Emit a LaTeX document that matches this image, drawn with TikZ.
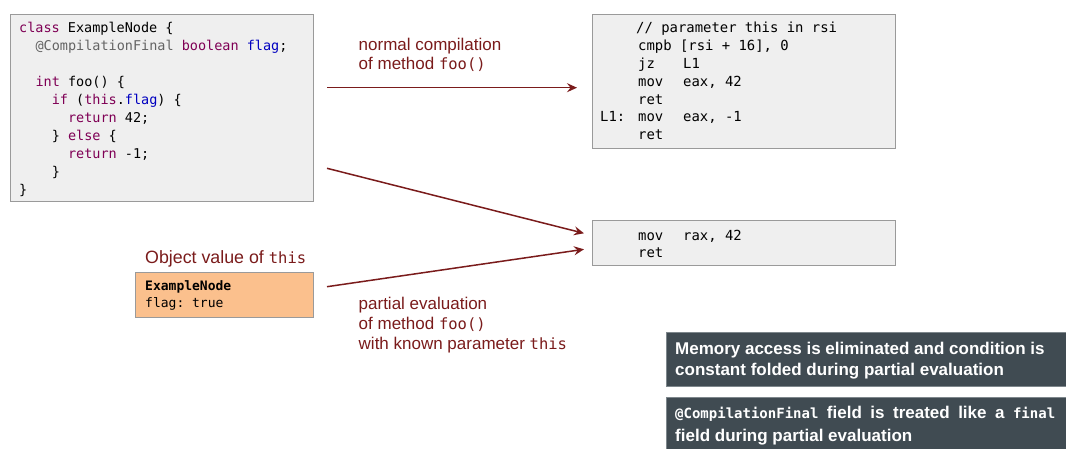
\documentclass[tikz,border=0pt]{standalone}
\usepackage{fontspec}
\setmainfont{Liberation Sans}
\setmonofont{DejaVu Sans Mono}
\usetikzlibrary{arrows.meta}
\definecolor{ckwc}{HTML}{7F0055}
\definecolor{cflc}{HTML}{0000C0}
\definecolor{canc}{HTML}{646464}
\definecolor{arr}{HTML}{7A1B1B}
\definecolor{boxfill}{HTML}{EFEFEF}
\definecolor{boxline}{HTML}{9A9A9A}
\definecolor{orangefill}{HTML}{FBC08D}
\definecolor{darkbox}{HTML}{404B52}
\definecolor{darkline}{HTML}{7E878C}
\newcommand\ckw[1]{\textcolor{ckwc}{#1}}
\newcommand\cfl[1]{\textcolor{cflc}{#1}}
\newcommand\can[1]{\textcolor{canc}{#1}}
\newcommand\lmono[1]{{\fontsize{15.5}{18}\ttfamily #1}}
\newcommand\nmono[1]{{\fontsize{14}{16}\ttfamily\bfseries #1}}
\newcommand\ind[1]{\hspace*{#1}}
\tikzset{
  graybox/.style={draw=boxline, fill=boxfill, line width=1pt, inner sep=0pt, anchor=north west},
  orangebox/.style={draw=boxline, fill=orangefill, line width=1pt, inner sep=0pt, anchor=north west},
  notebox/.style={fill=darkbox, draw=darkline, line width=0.8pt, inner sep=0pt, anchor=north west},
  codeline/.style={anchor=base west, inner sep=0pt, font=\fontsize{13.5}{16}\ttfamily},
  asmline/.style={anchor=base west, inner sep=0pt, font=\fontsize{13.9}{16}\ttfamily},
  objline/.style={anchor=base west, inner sep=0pt, font=\fontsize{13}{16}\ttfamily},
  lbl/.style={anchor=base west, inner sep=0pt, text=arr, font=\fontsize{17}{20}\selectfont},
  noteline/.style={anchor=base west, inner sep=0pt, text=white, font=\fontsize{17}{20}\selectfont\bfseries},
  flow/.style={draw=arr, line width=1.5pt, -{Stealth[length=10pt,width=9pt,inset=3.5pt]}}
}
\begin{document}
\begin{tikzpicture}[x=1pt,y=-1pt]
\useasboundingbox (0,0) rectangle (1066,449);
% boxes
\node[graybox, minimum width=303pt, minimum height=187.5pt] (code) at (10,14) {};
\node[graybox, minimum width=303pt, minimum height=134pt] (asmA) at (592,14) {};
\node[graybox, minimum width=303pt, minimum height=45pt] (asmB) at (592,220) {};
\node[orangebox, minimum width=177.7pt, minimum height=44.4pt] (obj) at (135,272.3) {};
\node[notebox, minimum width=402pt, minimum height=54pt] (noteA) at (666,332) {};
\node[notebox, minimum width=402pt, minimum height=56pt] (noteB) at (666,397) {};
% code text
\node[codeline] (c1) at (19,33) {\ckw{class} ExampleNode \{};
\node[codeline] (c2) at (19,50.9) {\ind{16.3pt}\can{@CompilationFinal} \ckw{boolean} \cfl{flag};};
\node[codeline] (c4) at (19,86.7) {\ind{16.3pt}\ckw{int} foo() \{};
\node[codeline] (c5) at (19,104.6) {\ind{32.6pt}\ckw{if} (\ckw{this}.\cfl{flag}) \{};
\node[codeline] (c6) at (19,122.5) {\ind{48.9pt}\ckw{return} 42;};
\node[codeline] (c7) at (19,140.4) {\ind{32.6pt}\} \ckw{else} \{};
\node[codeline] (c8) at (19,158.3) {\ind{48.9pt}\ckw{return} -1;};
\node[codeline] (c9) at (19,176.2) {\ind{32.6pt}\}};
\node[codeline] (c10) at (19,194.1) {\}};
% asm text
\node[asmline] (a1) at (636,33) {// parameter this in rsi};
\node[asmline] (a2) at (638,50.8) {cmpb [rsi + 16], 0};
\node[asmline] (a3) at (638,68.6) {\makebox[45pt][l]{jz}L1};
\node[asmline] (a4) at (638,86.4) {\makebox[45pt][l]{mov}eax, 42};
\node[asmline] (a5) at (638,104.2) {ret};
\node[asmline] (a6l) at (600,122) {L1:};
\node[asmline] (a6) at (638,122) {\makebox[45pt][l]{mov}eax, -1};
\node[asmline] (a7) at (638,139.8) {ret};
\node[asmline] (b1) at (638,241) {\makebox[45pt][l]{mov}rax, 42};
\node[asmline] (b2) at (638,258) {ret};
% object
\node[lbl, font=\fontsize{17.8}{20}\selectfont] (objlbl) at (145,264) {Object value of \lmono{this}};
\node[objline] (o1) at (145,290.2) {\textbf{ExampleNode}};
\node[objline] (o2) at (145,307.8) {flag: true};
% arrow labels
\node[lbl] (l1) at (358.5,50.5) {normal compilation};
\node[lbl] (l2) at (358.5,70) {of method \lmono{foo()}};
\node[lbl] (p1) at (358.5,309) {partial evaluation};
\node[lbl] (p2) at (358.5,329.5) {of method \lmono{foo()}};
\node[lbl] (p3) at (358.5,349.5) {with known parameter \lmono{this}};
% notes
\node[noteline] (n1) at (675,354) {Memory access is eliminated and condition is};
\node[noteline] (n2) at (675,375) {constant folded during partial evaluation};
\node[noteline] (n3) at (675,418) {\makebox[380pt][s]{\nmono{@CompilationFinal} field is treated like a \nmono{final}}};
\node[noteline] (n4) at (675,441) {field during partial evaluation};
% connectors
\coordinate (s1) at (327,87.7);
\coordinate (e1) at (577,87.7);
\coordinate (s2) at (327,168.3);
\coordinate (e2) at (584,233.3);
\coordinate (s3) at (327,286.7);
\coordinate (e3) at (584,249.3);
\draw[flow] (s1) -- (e1);
\draw[flow] (s2) -- (e2);
\draw[flow] (s3) -- (e3);
\end{tikzpicture}
\end{document}
